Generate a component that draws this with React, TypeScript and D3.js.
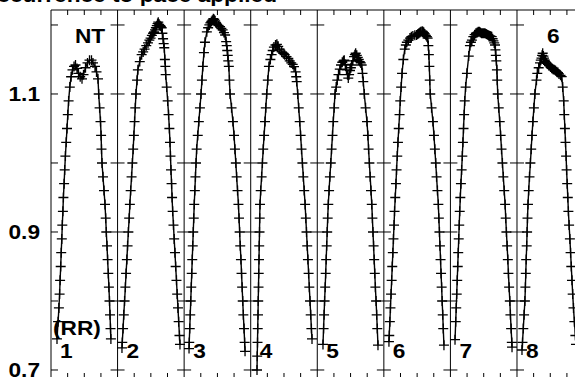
import React from 'react';
import * as d3 from 'd3';

type Pt = [number, number];

// time within each beat (ms), value
const cycleLength = 665.7;
const beatNames = ['1', '2', '3', '4', '5', '6', '7', '8'];
const yTickValues = [0.7, 0.8, 0.9, 1.0, 1.1, 1.2];
const yLabelValues = [0.7, 0.9, 1.1];
const yLabelTexts = ['0.7', '0.9', '1.1'];
const xMinorFractions = [0.25, 0.5, 0.75];
const titleText = 'Alternans occurrence to pace applied';

const beat1: Pt[] = [
  [60, 0.745], [71, 0.77], [79, 0.79], [86, 0.81], [91, 0.83], [97, 0.85], [102, 0.87], [108, 0.89], [113, 0.91], [119, 0.93],
  [124, 0.95], [131, 0.97], [137, 0.99], [144, 1.01], [152, 1.03], [160, 1.05], [168, 1.07], [176, 1.09], [188, 1.11], [201, 1.125],
  [215, 1.135], [230, 1.14], [245, 1.142], [260, 1.137], [275, 1.13], [292, 1.125], [310, 1.122], [325, 1.128], [345, 1.138], [365, 1.145],
  [385, 1.149], [405, 1.149], [420, 1.145], [440, 1.14], [455, 1.132], [470, 1.122],
  [477, 1.1], [486, 1.08], [495, 1.06], [501, 1.04], [505, 1.02], [510, 1.0], [520, 0.98], [530, 0.96], [540, 0.94], [547, 0.92],
  [553, 0.9], [560, 0.88], [566, 0.86], [573, 0.84], [579, 0.82], [585, 0.8], [590, 0.78], [595, 0.76], [599, 0.745],
];

const beat2: Pt[] = [
  [44, 0.732], [47, 0.74], [55, 0.76], [62, 0.78], [70, 0.8], [78, 0.82], [85, 0.84], [93, 0.86], [100, 0.88], [108, 0.9], [116, 0.92],
  [123, 0.94], [131, 0.96], [140, 0.98], [148, 1.0], [156, 1.02], [163, 1.04], [170, 1.06], [177, 1.08], [184, 1.1], [195, 1.12],
  [203, 1.135], [222, 1.147], [241, 1.157], [256, 1.161], [270, 1.165], [287, 1.17], [304, 1.174], [318, 1.178], [330, 1.181],
  [343, 1.185], [355, 1.188], [365, 1.19], [374, 1.193], [383, 1.196], [392, 1.199], [400, 1.202], [407, 1.204], [416, 1.201],
  [425, 1.199], [433, 1.198], [441, 1.196], [448, 1.188], [455, 1.18], [461, 1.173], [467, 1.167], [473, 1.15], [478, 1.14],
  [481, 1.128], [491, 1.11], [501, 1.09], [510, 1.07], [518, 1.05], [524, 1.03], [529, 1.01], [534, 0.99], [540, 0.97], [545, 0.95],
  [551, 0.93], [559, 0.91], [566, 0.89], [574, 0.87], [581, 0.85], [589, 0.83], [596, 0.81], [604, 0.79], [611, 0.77], [619, 0.75],
  [624, 0.737],
];

const beat3: Pt[] = [
  [49, 0.731], [51, 0.74], [56, 0.76], [61, 0.78], [66, 0.8], [71, 0.82], [76, 0.84], [81, 0.86], [86, 0.88], [91, 0.9], [96, 0.92],
  [101, 0.94], [107, 0.96], [113, 0.98], [119, 1.0], [125, 1.02], [136, 1.04], [147, 1.06], [158, 1.08], [169, 1.1], [178, 1.12],
  [187, 1.14], [198, 1.16], [208, 1.175], [227, 1.19], [240, 1.196], [252, 1.2], [262, 1.203], [272, 1.205], [282, 1.207],
  [292, 1.209], [301, 1.208], [310, 1.206], [320, 1.203], [330, 1.201], [345, 1.199], [359, 1.1975], [372, 1.195], [385, 1.193],
  [398, 1.189], [410, 1.1855], [420, 1.176], [426, 1.17], [431, 1.163], [436, 1.156], [441, 1.148], [447, 1.14], [453, 1.12],
  [459, 1.1], [474, 1.08], [488, 1.06], [499, 1.04], [508, 1.02], [517, 1.0], [525, 0.98], [534, 0.96], [543, 0.94], [549, 0.92],
  [555, 0.9], [561, 0.88], [568, 0.86], [574, 0.84], [580, 0.82], [586, 0.8], [592, 0.78], [599, 0.76], [605, 0.74], [609, 0.727],
];

const beat4: Pt[] = [
  [63, 0.7], [65, 0.72], [68, 0.74], [70, 0.76], [73, 0.78], [75, 0.8], [78, 0.82], [80, 0.84], [83, 0.86], [85, 0.88], [88, 0.9],
  [90, 0.92], [93, 0.94], [100, 0.96], [109, 0.98], [117, 1.0], [125, 1.02], [134, 1.04], [143, 1.06], [151, 1.08], [160, 1.1],
  [171, 1.12], [182, 1.14], [197, 1.15], [209, 1.157], [220, 1.163], [232, 1.168], [248, 1.171], [262, 1.172], [275, 1.169],
  [290, 1.165], [310, 1.161], [325, 1.159], [340, 1.157], [358, 1.154], [376, 1.1517], [390, 1.148], [405, 1.145], [420, 1.143],
  [433, 1.1396], [449, 1.132], [455, 1.125], [460, 1.118], [470, 1.1], [480, 1.08], [490, 1.06], [499, 1.04], [508, 1.02],
  [517, 1.0], [526, 0.98], [535, 0.96], [544, 0.94], [551, 0.92], [558, 0.9], [565, 0.88], [572, 0.86], [579, 0.84], [586, 0.82],
  [593, 0.8], [600, 0.78], [607, 0.76], [613, 0.745],
];

const beat5: Pt[] = [
  [57, 0.737], [63, 0.76], [68, 0.78], [73, 0.8], [79, 0.82], [84, 0.84], [89, 0.86], [94, 0.88], [99, 0.9], [104, 0.92], [110, 0.94],
  [118, 0.96], [126, 0.98], [135, 1.0], [143, 1.02], [152, 1.04], [160, 1.06], [169, 1.08], [177, 1.1], [189, 1.11], [200, 1.12],
  [212, 1.128], [225, 1.136], [237, 1.142], [250, 1.146], [262, 1.148], [270, 1.149], [280, 1.143], [292, 1.135], [302, 1.128],
  [310, 1.123], [318, 1.128], [327, 1.134], [336, 1.138], [344, 1.142], [356, 1.148], [368, 1.154], [376, 1.157], [384, 1.159],
  [395, 1.156], [405, 1.153], [415, 1.15], [425, 1.147], [435, 1.145], [444, 1.142], [452, 1.13], [460, 1.118], [470, 1.1],
  [483, 1.08], [497, 1.06], [506, 1.04], [513, 1.02], [521, 1.0], [529, 0.98], [537, 0.96], [545, 0.94], [551, 0.92], [557, 0.9],
  [563, 0.88], [569, 0.86], [575, 0.84], [581, 0.82], [588, 0.8], [594, 0.78], [600, 0.76], [607, 0.736],
];

const beat6: Pt[] = [
  [51, 0.741], [54, 0.75], [60, 0.77], [66, 0.79], [72, 0.81], [78, 0.83], [84, 0.85], [90, 0.87], [96, 0.89], [102, 0.91],
  [107, 0.93], [114, 0.95], [121, 0.97], [127, 0.99], [134, 1.01], [141, 1.03], [149, 1.05], [157, 1.07], [164, 1.09], [173, 1.11],
  [182, 1.13], [195, 1.15], [209, 1.165], [220, 1.171], [230, 1.175], [245, 1.178], [261, 1.181], [275, 1.183], [290, 1.184],
  [310, 1.185], [328, 1.1855], [340, 1.187], [350, 1.188], [360, 1.189], [370, 1.19], [384, 1.191], [392, 1.19], [400, 1.189],
  [410, 1.187], [420, 1.185], [430, 1.183], [438, 1.181], [445, 1.17], [450, 1.157], [455, 1.14], [459, 1.12], [464, 1.1],
  [477, 1.08], [491, 1.06], [501, 1.04], [510, 1.02], [519, 1.0], [527, 0.98], [536, 0.96], [545, 0.94], [550, 0.92], [556, 0.9],
  [561, 0.88], [567, 0.86], [572, 0.84], [578, 0.82], [583, 0.8], [589, 0.78], [594, 0.76], [601, 0.736],
];

const beat7: Pt[] = [
  [46, 0.744], [53, 0.77], [58, 0.79], [63, 0.81], [68, 0.83], [73, 0.85], [78, 0.87], [83, 0.89], [88, 0.91], [93, 0.93],
  [99, 0.95], [105, 0.97], [112, 0.99], [119, 1.01], [125, 1.03], [131, 1.05], [137, 1.07], [143, 1.09], [152, 1.11], [165, 1.13],
  [183, 1.155], [195, 1.17], [205, 1.175], [215, 1.178], [229, 1.183], [242, 1.186], [255, 1.188], [268, 1.189], [279, 1.19],
  [290, 1.19], [300, 1.189], [312, 1.188], [325, 1.188], [336, 1.188], [346, 1.188], [358, 1.187], [370, 1.186], [383, 1.185],
  [395, 1.184], [404, 1.1835], [413, 1.183], [422, 1.18], [430, 1.177], [438, 1.174], [446, 1.171], [450, 1.164], [454, 1.156],
  [459, 1.148], [465, 1.135], [468, 1.12], [473, 1.1], [483, 1.08], [493, 1.06], [502, 1.04], [511, 1.02], [520, 1.0], [529, 0.98],
  [538, 0.96], [547, 0.94], [553, 0.92], [560, 0.9], [567, 0.88], [574, 0.86], [580, 0.84], [587, 0.82], [594, 0.8], [600, 0.78],
  [607, 0.76], [614, 0.74], [616, 0.733],
];

const beat8: Pt[] = [
  [50, 0.729], [55, 0.74], [63, 0.76], [71, 0.78], [79, 0.8], [84, 0.82], [88, 0.84], [92, 0.86], [97, 0.88], [101, 0.9], [105, 0.92],
  [110, 0.94], [117, 0.96], [125, 0.98], [134, 1.0], [142, 1.02], [150, 1.04], [159, 1.06], [169, 1.08], [179, 1.1], [195, 1.12],
  [203, 1.13], [217, 1.138], [230, 1.145], [238, 1.149], [245, 1.152], [251, 1.156], [257, 1.159], [264, 1.155], [270, 1.152],
  [278, 1.149], [285, 1.147], [297, 1.1445], [310, 1.143], [320, 1.141], [335, 1.139], [347, 1.1372], [360, 1.136], [372, 1.135],
  [385, 1.134], [397, 1.1323], [410, 1.131], [420, 1.129], [435, 1.127], [447, 1.1251], [457, 1.11], [467, 1.09], [473, 1.07],
  [479, 1.05], [485, 1.03], [491, 1.01], [496, 0.99], [502, 0.97], [508, 0.95], [514, 0.93], [521, 0.91], [529, 0.89], [536, 0.87],
  [543, 0.85], [550, 0.83], [557, 0.81], [565, 0.79], [574, 0.77], [584, 0.75], [590, 0.737],
];

const beats: Pt[][] = [beat1, beat2, beat3, beat4, beat5, beat6, beat7, beat8];

const FONT = '"Liberation Sans", Arial, Helvetica, sans-serif';

function Label(props: { x: number; y: number; text: string; anchor?: string; size?: number }) {
  const { x, y, text, anchor = 'start', size = 21 } = props;
  return (
    <text
      transform={`translate(${x},${y}) scale(1.08,1)`}
      textAnchor={anchor}
      fontFamily={FONT}
      fontWeight="bold"
      fontSize={size}
      fill="#000"
    >
      {text}
    </text>
  );
}

export default function App() {
  const width = 575;
  const height = 377;
  const left = 51;
  const top = 10;
  const bottom = 378;
  const panelW = 66.57;
  const nPanels = beats.length;

  const x = d3
    .scaleLinear()
    .domain([0, cycleLength * nPanels])
    .range([left, left + panelW * nPanels]);
  const y = d3.scaleLinear().domain([0.6884, 1.2217]).range([bottom, top]);

  const line = d3
    .line<Pt>()
    .x((d) => x(d[0]))
    .y((d) => y(d[1]));

  const boundaries = d3.range(nPanels + 1).map((i) => i * cycleLength);
  const minorTicks: number[] = [];
  d3.range(nPanels + 1).forEach((i) =>
    xMinorFractions.forEach((f) => minorTicks.push((i + f) * cycleLength))
  );

  return (
    <svg
      width={width}
      height={height}
      style={{ position: 'absolute', left: 0, top: 0, background: '#fff' }}
    >
      <rect x={0} y={0} width={width} height={height} fill="#fff" />
      {/* title (mostly clipped) */}
      <Label x={277} y={1.5} text={titleText} anchor="end" />

      {/* frame */}
      <line x1={left} x2={width + 20} y1={top} y2={top} stroke="#000" strokeWidth={1} />
      <line x1={left} x2={width + 20} y1={bottom} y2={bottom} stroke="#000" strokeWidth={1} />

      {/* panel separators */}
      {boundaries.map((b, i) => (
        <line key={'b' + i} x1={x(b)} x2={x(b)} y1={top} y2={bottom} stroke="#000" strokeWidth={1} />
      ))}

      {/* y ticks at each boundary */}
      {boundaries.map((b, i) =>
        yTickValues.map((v, j) => (
          <line
            key={'yt' + i + '-' + j}
            x1={i === 0 ? x(b) : x(b) - 7}
            x2={x(b) + 7}
            y1={y(v)}
            y2={y(v)}
            stroke="#000"
            strokeWidth={1}
          />
        ))
      )}

      {/* minor x ticks top and bottom */}
      {minorTicks.map((t, i) => (
        <g key={'mt' + i}>
          <line x1={x(t)} x2={x(t)} y1={top} y2={top + 5} stroke="#000" strokeWidth={1} />
          <line x1={x(t)} x2={x(t)} y1={bottom - 5} y2={bottom} stroke="#000" strokeWidth={1} />
        </g>
      ))}

      {/* beats */}
      {beats.map((beat, i) => {
        const pts: Pt[] = beat.map((d) => [i * cycleLength + d[0], d[1]]);
        const markers = pts
          .map((d) => {
            const cx = x(d[0]);
            const cy = y(d[1]);
            return `M${cx - 5},${cy}h10M${cx},${cy - 5}v10`;
          })
          .join('');
        return (
          <g key={'beat' + i}>
            <path d={line(pts) || ''} fill="none" stroke="#000" strokeWidth={1.4} />
            <path d={markers} fill="none" stroke="#000" strokeWidth={1.3} />
          </g>
        );
      })}

      {/* y labels */}
      {yLabelValues.map((v, i) => (
        <Label key={'yl' + i} x={40} y={y(v) + 7.5} text={yLabelTexts[i]} anchor="end" />
      ))}

      {/* beat numbers */}
      {beatNames.map((n, i) => (
        <Label key={'bn' + i} x={x(i * cycleLength) + 9} y={358} text={n} />
      ))}

      <Label x={75} y={43} text="NT" />
      <Label x={547} y={43} text="6" />
      <Label x={53} y={335} text="(RR)" />
    </svg>
  );
}
